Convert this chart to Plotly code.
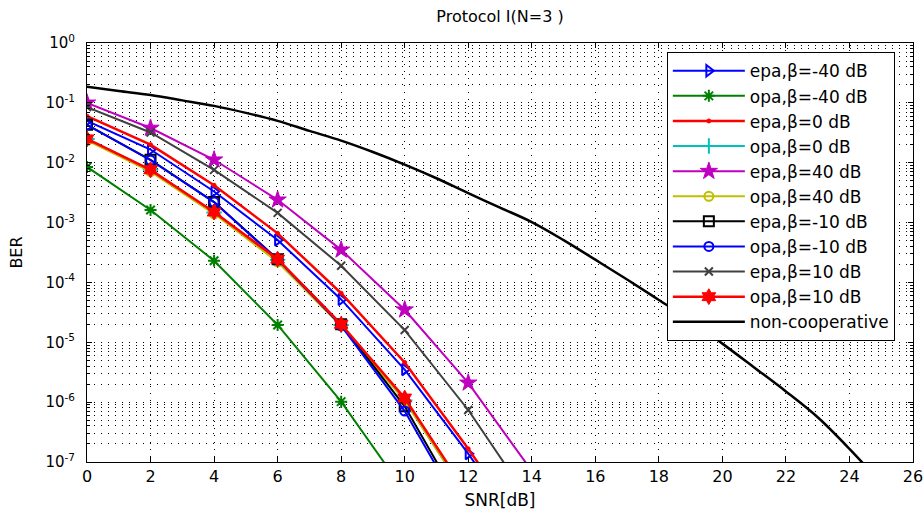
import plotly.graph_objects as go

# SNR grid (dB) for the cooperative schemes
snr = [0, 2, 4, 6, 8, 10, 12, 14]
snr_noncoop = list(range(0, 26))

# BER per scheme
ber_epa_m40 = [5.0e-2, 1.66e-2, 3.3e-3, 5.1e-4, 5.2e-5, 3.5e-6, 1.38e-7, 4e-9]
ber_opa_m40 = [8.5e-3, 1.62e-3, 2.3e-4, 1.95e-5, 1.02e-6, 3.2e-8]
ber_epa_0 = [6.0e-2, 2.0e-2, 4.2e-3, 6.6e-4, 6.6e-5, 4.6e-6, 1.66e-7, 5e-9]
ber_opa_0 = [2.5e-2, 7.6e-3, 1.48e-3, 2.4e-4, 1.95e-5, 1.07e-6, 2.5e-8]
ber_epa_40 = [1.0e-1, 3.8e-2, 1.12e-2, 2.4e-3, 3.5e-4, 3.5e-5, 2.1e-6, 7.1e-8]
ber_opa_40 = [2.35e-2, 7.1e-3, 1.4e-3, 2.2e-4, 1.86e-5, 1.07e-6, 2.5e-8]
ber_epa_m10 = [4.3e-2, 1.12e-2, 2.2e-3, 2.45e-4, 2.0e-5, 8.5e-7, 1.2e-8]
ber_opa_m10 = [4.3e-2, 1.1e-2, 2.2e-3, 2.4e-4, 1.9e-5, 7.1e-7, 1e-8]
ber_epa_10 = [8.5e-2, 3.2e-2, 7.6e-3, 1.45e-3, 1.9e-4, 1.6e-5, 7.4e-7, 2.0e-8]
ber_opa_10 = [2.5e-2, 7.6e-3, 1.5e-3, 2.45e-4, 2.0e-5, 1.17e-6, 2.8e-8]
ber_noncoop = [1.86e-1, 1.58e-1, 1.35e-1, 1.10e-1, 8.9e-2, 6.8e-2, 5.0e-2, 3.4e-2,
               2.34e-2, 1.51e-2, 9.3e-3, 5.5e-3, 3.1e-3, 1.78e-3, 1.02e-3, 5.1e-4,
               2.4e-4, 1.12e-4, 5.1e-5, 2.3e-5, 9.5e-6, 3.8e-6, 1.51e-6, 5.6e-7,
               1.66e-7, 4.4e-8]

series = [
    ("epa,β=-40 dB", ber_epa_m40, "#0000ff", "triangle-right-open", 10, 2),
    ("opa,β=-40 dB", ber_opa_m40, "#008000", "asterisk-open", 10, 2),
    ("epa,β=0 dB", ber_epa_0, "#ff0000", "circle", 4, 1),
    ("opa,β=0 dB", ber_opa_0, "#00bfbf", "cross-thin-open", 11, 2),
    ("epa,β=40 dB", ber_epa_40, "#bf00bf", "star", 13, 1),
    ("opa,β=40 dB", ber_opa_40, "#bfbf00", "circle-open", 9, 2),
    ("epa,β=-10 dB", ber_epa_m10, "#000000", "square-open", 10, 2),
    ("opa,β=-10 dB", ber_opa_m10, "#0000ff", "circle-open", 9, 2),
    ("epa,β=10 dB", ber_epa_10, "#404040", "x-thin-open", 8, 2),
    ("opa,β=10 dB", ber_opa_10, "#ff0000", "hexagram", 12, 1),
]

fig = go.Figure()
for i, (name, ber, color, sym, size, mlw) in enumerate(series):
    fig.add_trace(go.Scatter(
        x=snr[:len(ber)], y=ber, name=name, mode="lines+markers",
        legendgroup=f"g{i}",
        line=dict(color=color, width=2.5 if color == "#ff0000" else 2),
        marker=dict(symbol=sym, size=size, color=color,
                    line=dict(color=color, width=mlw)),
        cliponaxis=True,
    ))

fig.add_trace(go.Scatter(
    x=snr_noncoop, y=ber_noncoop, name="non-cooperative", mode="lines",
    legendgroup="g10", line=dict(color="#000000", width=2.5, shape="spline"),
))

dec_vals = [10.0 ** (-k) for k in range(0, 8)]
dec_text = ["10<sup>0</sup>"] + [f"10<sup>-{k}</sup>" for k in range(1, 8)]
minor_vals = [m * 10.0 ** (-k) for k in range(1, 8) for m in range(2, 10)]

grid_dash = "1px,6px"
font_main = "DejaVu Sans, Verdana, sans-serif"

fig.update_layout(
    width=924, height=510,
    margin=dict(l=87, r=11, t=43, b=48, autoexpand=False),
    paper_bgcolor="white", plot_bgcolor="white",
    font=dict(family=font_main, size=16, color="black"),
    title=dict(text="Protocol I(N=3 )", x=0.5, xref="paper", xanchor="center",
               y=1, yref="container", yanchor="top", pad=dict(t=11),
               font=dict(size=16, color="black")),
    showlegend=True,
    legend=dict(x=0.702, y=0.978, xanchor="left", yanchor="top",
                bgcolor="white", bordercolor="black", borderwidth=1,
                font=dict(size=17, color="black"), tracegroupgap=0,
                itemwidth=72),
)

fig.update_xaxes(
    range=[0, 26], dtick=2, tick0=0, automargin=False,
    showline=True, linecolor="black", linewidth=1, mirror="ticks",
    ticks="inside", ticklen=5, tickcolor="black",
    showgrid=True, gridcolor="black", gridwidth=1, griddash=grid_dash,
    zeroline=False,
    title=dict(text="SNR[dB]", standoff=10, font=dict(size=17)),
    tickfont=dict(size=16),
)
fig.update_yaxes(
    type="log", range=[-7, 0], automargin=False,
    tickmode="array", tickvals=dec_vals, ticktext=dec_text,
    showline=True, linecolor="black", linewidth=1, mirror="ticks",
    ticks="inside", ticklen=5, tickcolor="black",
    showgrid=True, gridcolor="black", gridwidth=1, griddash=grid_dash,
    minor=dict(tickmode="array", tickvals=minor_vals, ticks="inside", ticklen=3,
               tickcolor="black", showgrid=True, gridcolor="black",
               gridwidth=1, griddash=grid_dash),
    zeroline=False, ticklabelstandoff=8,
    title=dict(text="BER", standoff=18, font=dict(size=16)),
    tickfont=dict(size=15),
)

fig.write_html("out.html")
